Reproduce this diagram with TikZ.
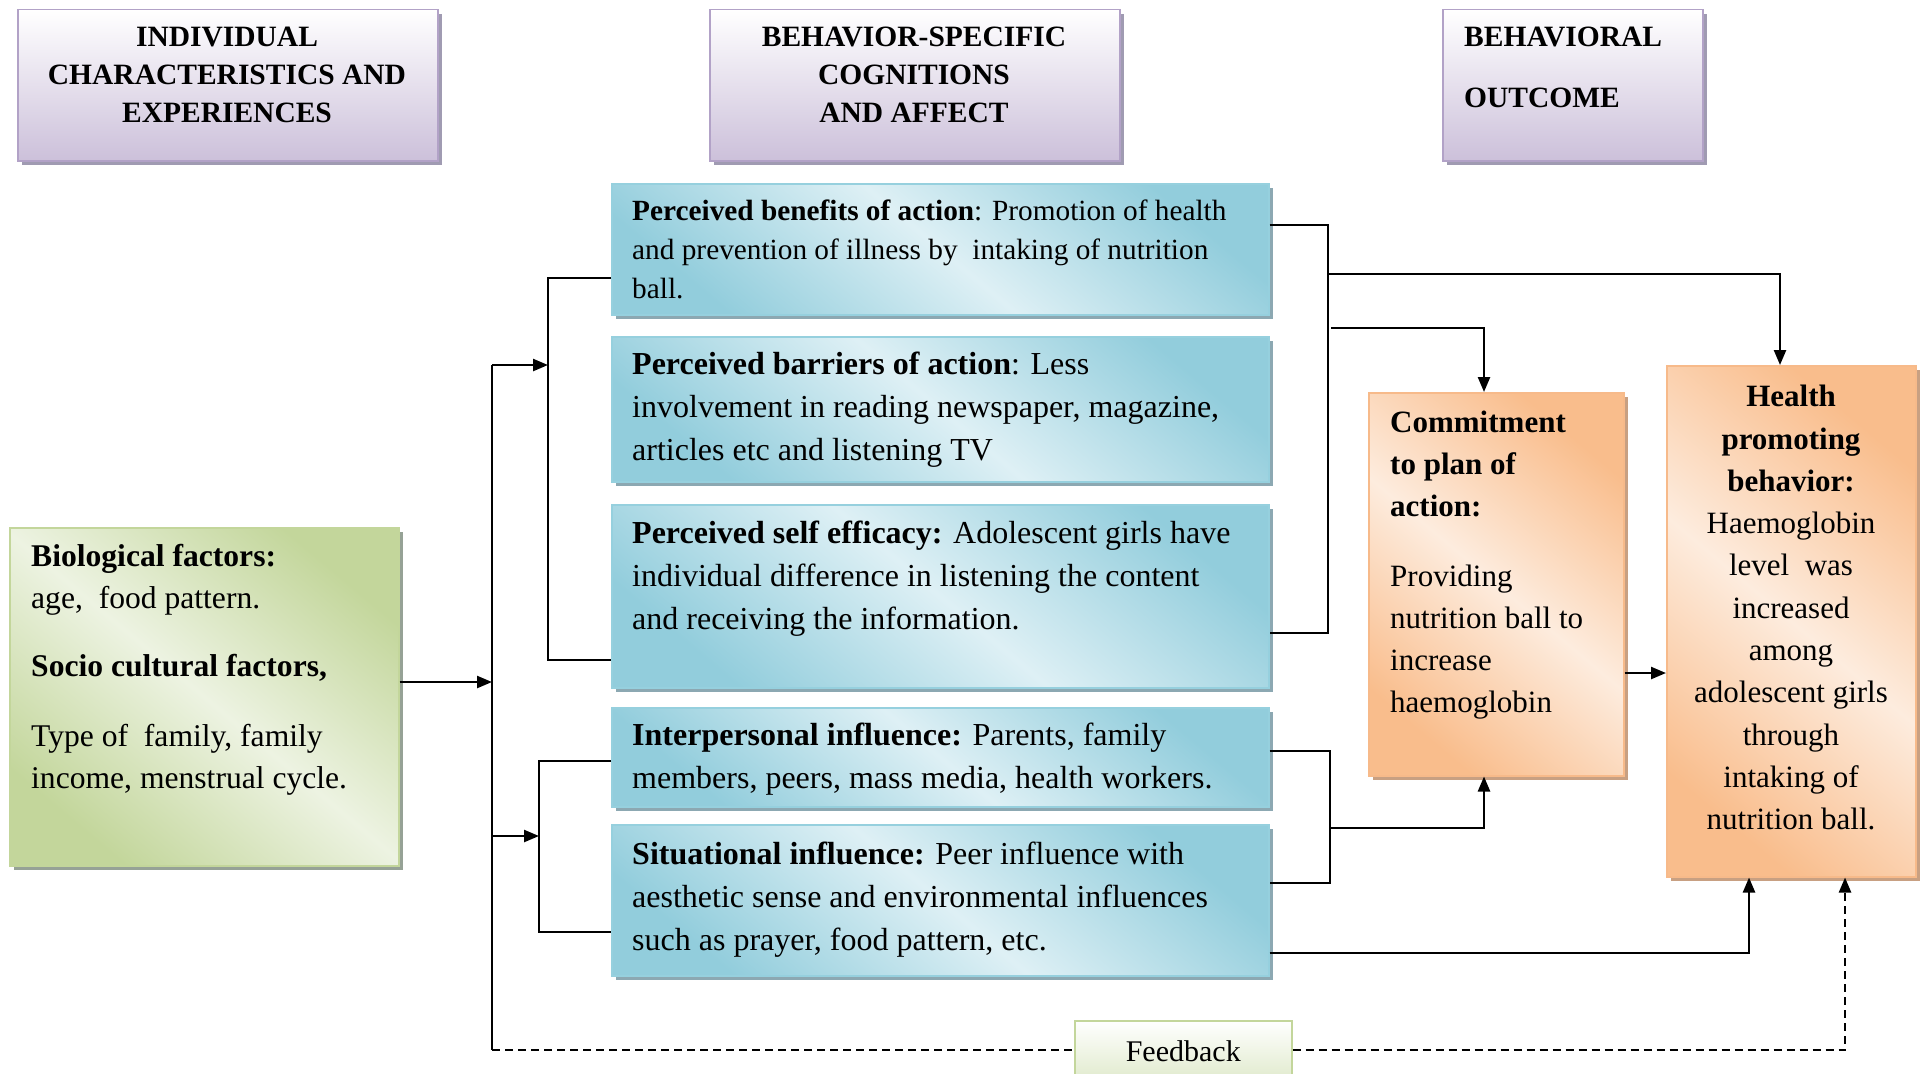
\documentclass[tikz,border=0pt]{standalone}
\usepackage{fontspec}
\setmainfont{Liberation Serif}
\usetikzlibrary{arrows.meta,shadows}
\definecolor{blueD}{RGB}{146,205,220}
\definecolor{blueL}{RGB}{222,240,245}
\definecolor{blueB}{RGB}{150,208,222}
\definecolor{blueS}{RGB}{140,168,178}
\definecolor{orD}{RGB}{249,189,140}
\definecolor{orL}{RGB}{253,236,222}
\definecolor{orB}{RGB}{247,186,138}
\definecolor{orS}{RGB}{200,160,130}
\definecolor{grD}{RGB}{195,214,155}
\definecolor{grL}{RGB}{237,243,226}
\definecolor{grB}{RGB}{195,214,155}
\definecolor{grS}{RGB}{150,162,150}
\definecolor{puD}{RGB}{204,192,218}
\definecolor{puB}{RGB}{178,162,199}
\definecolor{puS}{RGB}{160,155,178}
\tikzset{
  boxbase/.style={anchor=north west, inner sep=0pt, line width=1.5pt},
  bluebox/.style={boxbase, draw=blueB, top color=blueD, bottom color=blueD, middle color=blueL, shading angle=-40,
    drop shadow={shadow xshift=4pt, shadow yshift=-4pt, fill=blueS, opacity=1}},
  orbox/.style={boxbase, draw=orB, top color=orD, bottom color=orD, middle color=orL, shading angle=-40,
    drop shadow={shadow xshift=4pt, shadow yshift=-4pt, fill=orS, opacity=1}},
  grbox/.style={boxbase, draw=grB, top color=grD, bottom color=grD, middle color=grL, shading angle=-40,
    drop shadow={shadow xshift=4pt, shadow yshift=-4pt, fill=grS, opacity=1}},
  pubox/.style={boxbase, draw=puB, top color=white, bottom color=puD,
    drop shadow={shadow xshift=4pt, shadow yshift=-4pt, fill=puS, opacity=1}},
  fbbox/.style={boxbase, draw=grB, top color=white, bottom color=grL!70!grD},
  txt/.style={inner sep=0pt, anchor=north west, align=left, font=\fontsize{32}{43}\selectfont},
  hdr/.style={inner sep=0pt, anchor=north, align=center, font=\fontsize{29.5}{38}\selectfont\bfseries},
  ln/.style={line width=2.4pt, draw=black},
  arr/.style={ln, -{Triangle[length=15pt,width=12pt]}},
  dsh/.style={ln, dashed, dash pattern=on 8pt off 5pt},
}
\begin{document}
\begin{tikzpicture}[x=1pt,y=-1pt]
\useasboundingbox[fill=white] (0,0) rectangle (1921,1073);

% header boxes
\node[pubox, minimum width=420pt, minimum height=151pt] (h1) at (17,9) {};
\node[pubox, minimum width=410pt, minimum height=151pt] (h2) at (709,9) {};
\node[pubox, minimum width=260pt, minimum height=151pt] (h3) at (1442,9) {};
\node[hdr] (h1t) at (227,27) {INDIVIDUAL\\CHARACTERISTICS AND\\EXPERIENCES};
\node[hdr] (h2t) at (914,27) {BEHAVIOR-SPECIFIC\\COGNITIONS\\AND AFFECT};
\node[hdr, anchor=north west, align=left] (h3t) at (1464,27) {BEHAVIORAL\\[23pt]OUTCOME};

% blue boxes
\node[bluebox, minimum width=657pt, minimum height=131pt] (b1) at (611,183) {};
\node[bluebox, minimum width=657pt, minimum height=145pt] (b2) at (611,336) {};
\node[bluebox, minimum width=657pt, minimum height=183pt] (b3) at (611,504) {};
\node[bluebox, minimum width=657pt, minimum height=99pt] (b4) at (611,707) {};
\node[bluebox, minimum width=657pt, minimum height=151pt] (b5) at (611,824) {};

\node[txt, font=\fontsize{29.3}{38.6}\selectfont] (t1) at (632,200) {\textbf{Perceived benefits of action}: Promotion of health\\and prevention of illness by \ intaking of nutrition\\ball.};
\node[txt] (t2) at (632,352) {\textbf{Perceived barriers of action}: Less\\involvement in reading newspaper, magazine,\\articles etc and listening TV};
\node[txt] (t3) at (632,521) {\textbf{Perceived self efficacy:} Adolescent girls have\\individual difference in listening the content\\and receiving the information.};
\node[txt] (t4) at (632,723) {\textbf{Interpersonal influence:} Parents, family\\members, peers, mass media, health workers.};
\node[txt] (t5) at (632,842) {\textbf{Situational influence:} Peer influence with\\aesthetic sense and environmental influences\\such as prayer, food pattern, etc.};

% green box
\node[grbox, minimum width=389pt, minimum height=338pt] (gr) at (9,527) {};
\node[txt, font=\fontsize{31.6}{42}\selectfont] (gt) at (31,544) {\textbf{Biological factors:}\\age, \ food pattern.\\[26pt]\textbf{Socio cultural factors,}\\[28pt]Type of \ family, family\\income, menstrual cycle.};

% orange boxes
\node[orbox, minimum width=255pt, minimum height=383pt] (cm) at (1368,392) {};
\node[orbox, minimum width=249pt, minimum height=511pt] (hp) at (1666,365) {};
\node[txt, font=\fontsize{31}{42}\selectfont] (ct) at (1390,411) {\textbf{Commitment}\\\textbf{to plan of}\\\textbf{action:}\\[28pt]Providing\\nutrition ball to\\increase\\haemoglobin};
\node[txt, anchor=north, align=center, font=\fontsize{31}{42.3}\selectfont] (ht) at (1791,385) {\textbf{Health}\\\textbf{promoting}\\\textbf{behavior:}\\Haemoglobin\\level \ was\\increased\\among\\adolescent girls\\through\\intaking of\\nutrition ball.};

% feedback box
\node[fbbox, minimum width=217pt, minimum height=60pt, font=\fontsize{30}{36}\selectfont] (fb) at (1074,1020) {Feedback};

% junction coordinates
\coordinate (busTop) at (492,365);
\coordinate (busA) at (492,682);
\coordinate (busB) at (492,836);
\coordinate (busBot) at (492,1050);
\coordinate (k1) at (548,278);
\coordinate (k1m) at (548,365);
\coordinate (k2) at (548,660);
\coordinate (k3) at (539,761);
\coordinate (k3m) at (539,836);
\coordinate (k4) at (539,932);
\coordinate (r1) at (1328,225);
\coordinate (r1a) at (1328,274);
\coordinate (r1b) at (1331,328);
\coordinate (r2) at (1328,633);
\coordinate (r3) at (1330,751);
\coordinate (r3m) at (1330,828);
\coordinate (r4) at (1330,883);
\coordinate (hpA) at (1780,274);
\coordinate (cmA) at (1484,328);
\coordinate (cmB) at (1484,828);
\coordinate (cmC) at (1623,673);
\coordinate (hpB) at (1749,953);
\coordinate (hpC) at (1845,1050);

% left side connectors
\draw[arr] (gr.east |- busA) -- (busA);
\draw[ln] (busTop) -- (busBot);
\draw[arr] (busTop) -- (k1m);
\draw[ln] (b1.west |- k1) -- (k1) -- (k2) -- (b3.west |- k2);
\draw[arr] (busB) -- (k3m);
\draw[ln] (b4.west |- k3) -- (k3) -- (k4) -- (b5.west |- k4);

% right side connectors
\draw[ln] (b1.east |- r1) -- (r1) -- (r2) -- (b3.east |- r2);
\draw[arr] (r1a) -- (hpA) -- (hp.north -| hpA);
\draw[arr] (r1b) -- (cmA) -- (cm.north -| cmA);
\draw[arr] (cm.east |- cmC) -- (hp.west |- cmC);
\draw[ln] (b4.east |- r3) -- (r3) -- (r4) -- (b5.east |- r4);
\draw[arr] (r3m) -- (cmB) -- (cm.south -| cmB);
\draw[arr] (b5.east |- hpB) -- (hpB) -- (hp.south -| hpB);

% feedback
\draw[dsh] (busBot) -- (fb.west |- busBot);
\draw[dsh, -{Triangle[length=15pt,width=12pt]}] (fb.east |- busBot) -- (hpC) -- (hp.south -| hpC);
\end{tikzpicture}
\end{document}
